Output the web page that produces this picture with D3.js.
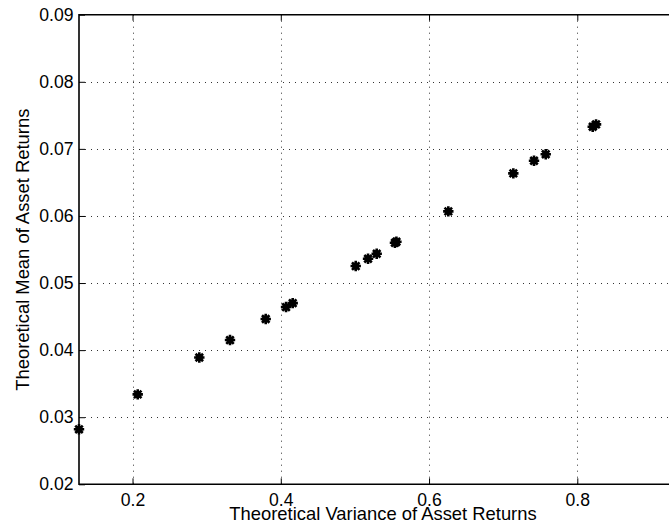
<!DOCTYPE html>
<html><head><meta charset="utf-8">
<script src="https://cdn.jsdelivr.net/npm/d3@7"></script>
<style>body{margin:0;background:#fff}text{font-family:"Liberation Sans",Arial,Helvetica,sans-serif}</style>
</head><body>
<svg id="c" width="669" height="532"></svg>
<script>
const variance = [0.1278,0.2070,0.2901,0.3315,0.3797,0.4071,0.4161,0.5011,0.5177,0.5294,0.5540,0.5560,0.6260,0.7137,0.7416,0.7574,0.8208,0.8253];
const mean     = [0.0282,0.0334,0.0389,0.0415,0.04464,0.04642,0.0470,0.05253,0.05362,0.05437,0.05600,0.05615,0.06069,0.06635,0.06823,0.0692,0.0733,0.07365];
const xTicks = [0.2,0.4,0.6,0.8];
const yTicks = [0.02,0.03,0.04,0.05,0.06,0.07,0.08,0.09];
const xLabel = "Theoretical Variance of Asset Returns";
const yLabel = "Theoretical Mean of Asset Returns";

const svg = d3.select("#c");
const L=79, T=14.7, B=484.3;
const x = d3.scaleLinear().domain([0.1278,0.93]).range([L, L+0.8022*741.3]);
const y = d3.scaleLinear().domain([0.02,0.09]).range([B,T]);
const R = x.range()[1];

// grid
const g = svg.append("g");
g.selectAll(".gx").data(xTicks).enter().append("line")
  .attr("x1",d=>Math.round(x(d))+0.5).attr("x2",d=>Math.round(x(d))+0.5).attr("y1",T).attr("y2",B)
  .attr("stroke","#333").attr("stroke-width",1).attr("stroke-dasharray","1,5");
g.selectAll(".gy").data(yTicks.slice(1,-1)).enter().append("line")
  .attr("y1",d=>Math.round(y(d))+0.5).attr("y2",d=>Math.round(y(d))+0.5).attr("x1",L).attr("x2",R)
  .attr("stroke","#333").attr("stroke-width",1).attr("stroke-dasharray","1,5");

// axes
const fs = "17.6px";
const xa = svg.append("g").attr("transform",`translate(0,${B})`)
  .call(d3.axisBottom(x).tickValues(xTicks).tickSize(-6).tickPadding(9).tickFormat(d3.format(".1f")));
const ya = svg.append("g").attr("transform",`translate(${L},0)`)
  .call(d3.axisLeft(y).tickValues(yTicks).tickSize(-6).tickPadding(5.5).tickFormat(d3.format(".2f")));
const xt = svg.append("g").attr("transform",`translate(0,${T})`)
  .call(d3.axisTop(x).tickValues(xTicks).tickSize(-6).tickFormat(""));
[xa,ya,xt].forEach(a=>{
  a.select(".domain").remove();
  a.selectAll(".tick line").attr("stroke","#000").attr("stroke-width",1);
  a.selectAll("text").attr("fill","#000").style("font-size",fs);
});
// box
svg.append("path").attr("d",`M${R},${T}H${L}V${B}H${R}`).attr("fill","none").attr("stroke","#000").attr("stroke-width",1.6);

// markers
const r=5.2;
const ast = `M${-r},0H${r}M0,${-r}V${r}M${-r*0.72},${-r*0.72}L${r*0.72},${r*0.72}M${-r*0.72},${r*0.72}L${r*0.72},${-r*0.72}`;
svg.append("g").selectAll("g").data(variance.map((v,i)=>[v,mean[i]])).enter().append("g")
  .attr("transform",d=>`translate(${x(d[0])},${y(d[1])})`)
  .each(function(){
    const s=d3.select(this);
    s.append("circle").attr("r",3.6).attr("fill","#000");
    s.append("path").attr("d",ast).attr("stroke","#000").attr("stroke-width",2.6).attr("fill","none");
  });

// labels
const lfs = "18.4px";
svg.append("text").attr("x",383).attr("y",519.5).attr("text-anchor","middle").style("font-size",lfs).attr("fill","#000").text(xLabel);
svg.append("text").attr("transform",`translate(28.5,249.7) rotate(-90)`).attr("text-anchor","middle").style("font-size",lfs).attr("fill","#000").text(yLabel);
</script>
</body></html>
